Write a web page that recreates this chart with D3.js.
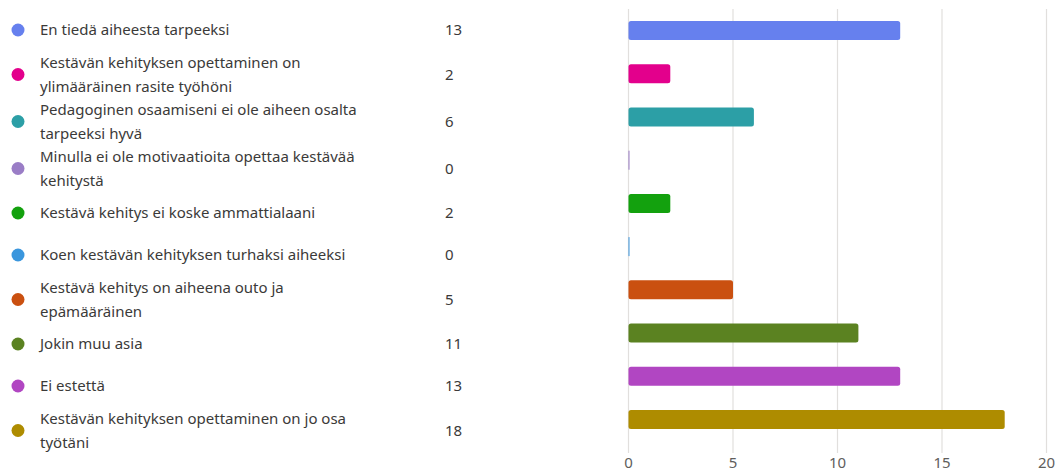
<!DOCTYPE html>
<html>
<head>
<meta charset="utf-8">
<script src="https://cdn.jsdelivr.net/npm/d3@7"></script>
<style>
  body { margin: 0; background: #fff; }
  svg { display: block; font-family: "Noto Sans", "Open Sans", sans-serif; }
</style>
</head>
<body>
<div class="chart"></div>
<script>
// vastaukset
const labels = [
  ['En tiedä aiheesta tarpeeksi'],
  ['Kestävän kehityksen opettaminen on', 'ylimääräinen rasite työhöni'],
  ['Pedagoginen osaamiseni ei ole aiheen osalta', 'tarpeeksi hyvä'],
  ['Minulla ei ole motivaatioita opettaa kestävää', 'kehitystä'],
  ['Kestävä kehitys ei koske ammattialaani'],
  ['Koen kestävän kehityksen turhaksi aiheeksi'],
  ['Kestävä kehitys on aiheena outo ja', 'epämääräinen'],
  ['Jokin muu asia'],
  ['Ei estettä'],
  ['Kestävän kehityksen opettaminen on jo osa', 'työtäni']
];
const counts = [13, 2, 6, 0, 2, 0, 5, 11, 13, 18];
const colors = ['#6680ee', '#e3008c', '#2c9fa6', '#9a7dc6', '#13a10e',
                '#3a96dd', '#ca5010', '#5b8221', '#b146c2', '#ae8c00'];
const xTicks = [0, 5, 10, 15, 20];

const width = 1064;
const height = 473;

const svg = d3.select('.chart').append('svg')
  .attr('width', width)
  .attr('height', height);

// legend (vasen puoli)
let yPos = 9;
const legend = svg.append('g');
labels.forEach(function(lines, i) {
  const h = lines.length === 1 ? 42 : 47;
  const cy = yPos + 21 + (lines.length - 1) * 2.5;
  const g = legend.append('g').attr('transform', 'translate(0,' + cy + ')');
  g.append('circle')
    .attr('cx', 18).attr('cy', 0).attr('r', 6.5)
    .attr('fill', colors[i]);
  const t = g.append('text')
    .attr('x', 40)
    .attr('fill', '#3b3a39')
    .style('font-size', '15px');
  lines.forEach(function(line, j) {
    t.append('tspan')
      .attr('x', 40)
      .attr('y', (j - (lines.length - 1) / 2) * 24)
      .attr('dy', '0.35em')
      .text(line);
  });
  g.append('text')
    .attr('x', 445)
    .attr('dy', '0.35em')
    .attr('fill', '#3b3a39')
    .style('font-size', '15px')
    .text(counts[i]);
  yPos += h;
});

// palkit
const x = d3.scaleLinear()
  .domain([0, 20])
  .range([628.5, 1046.5]);
const y = d3.scaleBand()
  .domain(d3.range(counts.length))
  .range([9, 441])
  .paddingInner(0.56)
  .paddingOuter(0.28);

svg.append('g')
  .selectAll('line')
  .data(xTicks)
  .enter()
  .append('line')
  .attr('x1', d => x(d)).attr('x2', d => x(d))
  .attr('y1', 9).attr('y2', 453)
  .attr('stroke', '#e1dfdd')
  .attr('stroke-width', 1.2);

svg.append('g')
  .selectAll('text')
  .data(xTicks)
  .enter()
  .append('text')
  .attr('x', d => x(d))
  .attr('y', 463)
  .attr('dy', '0.35em')
  .attr('text-anchor', 'middle')
  .attr('fill', '#605e5c')
  .style('font-size', '15px')
  .text(d => d);

svg.append('g')
  .selectAll('rect')
  .data(counts)
  .enter()
  .append('rect')
  .attr('x', x(0))
  .attr('y', (d, i) => y(i))
  .attr('width', d => Math.max(x(d) - x(0), 1))
  .attr('height', y.bandwidth())
  .attr('rx', d => d > 0 ? 2.5 : 0)
  .attr('fill', (d, i) => colors[i]);
</script>
</body>
</html>
